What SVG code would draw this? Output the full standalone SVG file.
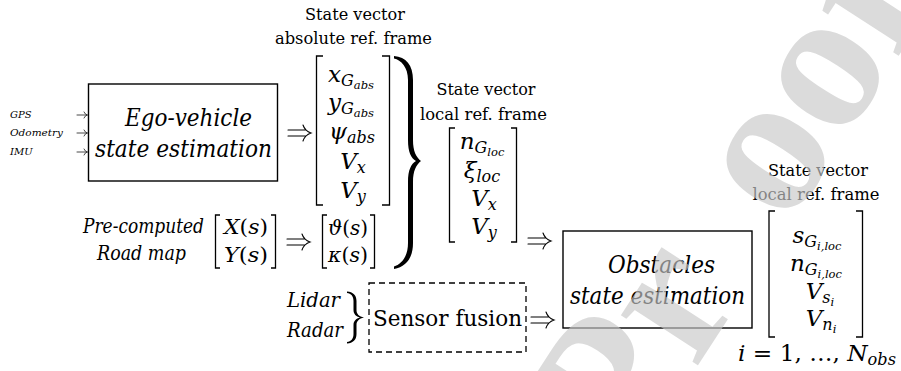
<svg xmlns="http://www.w3.org/2000/svg" width="901" height="371" viewBox="0 0 901 371" font-family="'DejaVu Serif', serif">
<style>
.t,.hd,.m,.mi,.bx,.lb,.sm,.rm{font-family:'DejaVu Serif',serif;fill:#000}
.hd{font-size:17px;text-anchor:middle}
.i{font-style:italic}
.m{font-size:23px;font-style:italic;text-anchor:middle}
.mi{font-size:21px;font-style:italic;text-anchor:middle}
.u{font-style:normal}
.sub{font-size:16px}
.ss{font-size:11.5px}
.bx{font-size:24px;font-style:italic;text-anchor:middle}
.lb{font-size:20px;font-style:italic}
.sm{font-size:10px;font-style:italic}
.rm{font-size:23px}
.box{fill:none;stroke:#000;stroke-width:1.4}
.br{fill:none;stroke:#000;stroke-width:1.3}
.dbl{fill:none;stroke:#000;stroke-width:1.1;stroke-linecap:round}
.sa{fill:none;stroke:#333;stroke-width:0.9;stroke-linecap:round}
</style>
<defs>
<path id="dbl" d="M0,-3 H18 M0,3 H18 M15,-8 Q17,-2 23,0 Q17,2 15,8"/>
</defs>
<rect width="901" height="371" fill="#fff"/>

<g id="inputs">
<text class="sm" x="10" y="118">GPS</text>
<text class="sm" x="10" y="136" textLength="53" lengthAdjust="spacingAndGlyphs">Odometry</text>
<text class="sm" x="10" y="155">IMU</text>
</g>

<g id="ego-box">
<rect class="box" x="88.5" y="84" width="189" height="97"/>
<text class="bx" x="188.5" y="126" textLength="127" lengthAdjust="spacingAndGlyphs">Ego-vehicle</text>
<text class="bx" x="183.5" y="157" textLength="177" lengthAdjust="spacingAndGlyphs">state estimation</text>
</g>

<g id="abs-vector">
<text class="hd" x="355" y="20" textLength="100" lengthAdjust="spacingAndGlyphs">State vector</text>
<text class="hd" x="353.5" y="44" textLength="157" lengthAdjust="spacingAndGlyphs">absolute ref. frame</text>
<path class="br" d="M323,56 H316.5 V205 H323 M382,56 H389.5 V205 H382"/>
<text class="m" x="351" y="82">x<tspan class="sub" dy="4">G</tspan><tspan class="ss" dy="3">abs</tspan></text>
<text class="m" x="351" y="110">y<tspan class="sub" dy="4">G</tspan><tspan class="ss" dy="3">abs</tspan></text>
<text class="m" x="352" y="139">ψ<tspan class="sub" dy="4">abs</tspan></text>
<text class="m" x="353" y="169">V<tspan class="sub" dy="4">x</tspan></text>
<text class="m" x="353" y="198">V<tspan class="sub" dy="4">y</tspan></text>
</g>

<g id="road-map">
<text class="lb" x="83" y="233" textLength="121" lengthAdjust="spacingAndGlyphs">Pre-computed</text>
<text class="lb" x="97" y="260" textLength="89" lengthAdjust="spacingAndGlyphs">Road map</text>
<path class="br" d="M220,215 H215.5 V268 H220 M271,215 H275.5 V268 H271"/>
<text class="mi" x="246" y="234" textLength="44" lengthAdjust="spacingAndGlyphs">X<tspan class="u">(</tspan>s<tspan class="u">)</tspan></text>
<text class="mi" x="246" y="262" textLength="44" lengthAdjust="spacingAndGlyphs">Y<tspan class="u">(</tspan>s<tspan class="u">)</tspan></text>
</g>

<g id="curvature">
<path class="br" d="M327,215 H322.5 V268 H327 M370,215 H374.5 V268 H370"/>
<text class="mi" x="348" y="235" textLength="40" lengthAdjust="spacingAndGlyphs">ϑ<tspan class="u">(</tspan>s<tspan class="u">)</tspan></text>
<text class="mi" x="348" y="262" textLength="40" lengthAdjust="spacingAndGlyphs">κ<tspan class="u">(</tspan>s<tspan class="u">)</tspan></text>
</g>

<g id="local-vector">
<text class="hd" x="486" y="95" textLength="99" lengthAdjust="spacingAndGlyphs">State vector</text>
<text class="hd" x="483.5" y="120" textLength="127" lengthAdjust="spacingAndGlyphs">local ref. frame</text>
<path class="br" d="M455,128 H449.5 V242 H455 M511,128 H516.5 V242 H511"/>
<text class="m" x="482" y="149">n<tspan class="sub" dy="4">G</tspan><tspan class="ss" dy="3">loc</tspan></text>
<text class="m" x="482" y="178">ξ<tspan class="sub" dy="4">loc</tspan></text>
<text class="m" x="484" y="206">V<tspan class="sub" dy="4">x</tspan></text>
<text class="m" x="484" y="234">V<tspan class="sub" dy="4">y</tspan></text>
</g>

<g id="sensors">
<text class="lb" x="287" y="307" textLength="53" lengthAdjust="spacingAndGlyphs">Lidar</text>
<text class="lb" x="287" y="337" textLength="56" lengthAdjust="spacingAndGlyphs">Radar</text>
</g>

<g id="sensor-fusion">
<rect x="369" y="283" width="157" height="69" fill="none" stroke="#000" stroke-width="1.3" stroke-dasharray="6 4"/>
<text class="rm" x="447.5" y="326" text-anchor="middle" textLength="149" lengthAdjust="spacingAndGlyphs">Sensor fusion</text>
</g>

<g id="obstacles-box">
<rect class="box" x="563" y="231" width="189" height="97"/>
<text class="bx" x="661.5" y="273" textLength="107" lengthAdjust="spacingAndGlyphs">Obstacles</text>
<text class="bx" x="657.5" y="304" textLength="175" lengthAdjust="spacingAndGlyphs">state estimation</text>
</g>

<g id="obstacle-vector">
<text class="hd" x="818" y="176" textLength="100" lengthAdjust="spacingAndGlyphs">State vector</text>
<text class="hd" x="816" y="200" textLength="127" lengthAdjust="spacingAndGlyphs">local ref. frame</text>
<path class="br" d="M775,211 H769 V337 H775 M856,211 H862.5 V337 H856"/>
<text class="m" x="817" y="243">s<tspan class="sub" dy="4">G</tspan><tspan class="ss" dy="3">i,loc</tspan></text>
<text class="m" x="816" y="271">n<tspan class="sub" dy="4">G</tspan><tspan class="ss" dy="3">i,loc</tspan></text>
<text class="m" x="820" y="299">V<tspan class="sub" dy="4">s</tspan><tspan class="ss" dy="3">i</tspan></text>
<text class="m" x="821" y="326">V<tspan class="sub" dy="4">n</tspan><tspan class="ss" dy="3">i</tspan></text>
<text class="rm" x="738" y="361" textLength="158" lengthAdjust="spacingAndGlyphs"><tspan class="i">i</tspan> = 1, …, <tspan class="i">N</tspan><tspan class="i" font-size="16" dy="4">obs</tspan></text>
</g>

<g id="connectors">
<path class="sa" d="M77,115 H87 M84,112 Q85,114.5 87.5,115 Q85,115.5 84,118"/>
<path class="sa" d="M77,133 H87 M84,130 Q85,132.5 87.5,133 Q85,133.5 84,136"/>
<path class="sa" d="M77,152 H87 M84,149 Q85,151.5 87.5,152 Q85,152.5 84,155"/>
<use href="#dbl" class="dbl" x="288" y="133"/>
<use href="#dbl" class="dbl" x="287" y="242"/>
<use href="#dbl" class="dbl" x="528" y="241"/>
<use href="#dbl" class="dbl" x="531" y="320"/>
<path fill="#000" d="M394,56 C406,57 413,65 413,80 L413,140 C413,151 416,157 421,161 C416,165 413,171 413,182 L413,243 C413,258 406,267 394,269 L394,266.5 C401,264.5 408,257 408,243 L408,182 C408,170 411,164 416,161 C411,158 408,152 408,140 L408,80 C408,67 401,60 394,58.5 Z"/>
<path fill="#000" d="M347,291.5 C353,292 356.5,295 356.5,301 L356.5,310 C356.5,314 359,316.5 364,317.5 C359,318.5 356.5,321 356.5,325 L356.5,334 C356.5,340 353,343 347,343.5 L347,342 C351,341.5 353.5,339 353.5,334 L353.5,325 C353.5,321 356,318.5 360,317.5 C356,316.5 353.5,314 353.5,310 L353.5,301 C353.5,296 351,293.5 347,293 Z"/>
</g>

<text id="watermark" transform="translate(672,405) rotate(-57)" font-family="'Liberation Serif','DejaVu Serif',serif" font-size="200" font-weight="bold" fill="#c8c8c8" opacity="0.65"><tspan x="-80">Pr</tspan><tspan x="211">oof</tspan></text>
</svg>
